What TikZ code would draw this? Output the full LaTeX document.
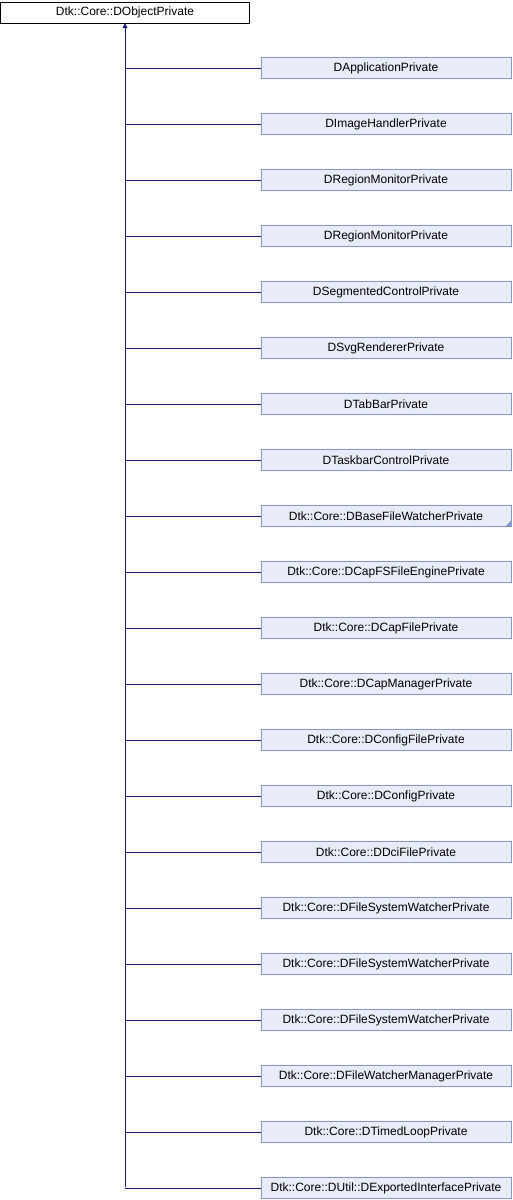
\documentclass[tikz,border=0pt]{standalone}
\usepackage{fontspec}
\setmainfont{Liberation Sans}
\usetikzlibrary{arrows.meta}
\definecolor{edge}{HTML}{191970}
\definecolor{boxfill}{HTML}{E8ECF6}
\definecolor{boxline}{HTML}{8497C8}

\begin{document}
\begin{tikzpicture}[x=1pt,y=-1pt,
  base/.style={draw=black,fill=white,minimum width=249pt,minimum height=21pt,
    inner sep=0pt,font=\fontsize{12}{13}\selectfont},
  derived/.style={draw=boxline,fill=boxfill,minimum width=250pt,minimum height=21pt,
    inner sep=0pt,font=\fontsize{12}{13}\selectfont},
  link/.style={edge,line width=0.8pt},
]
  \useasboundingbox (0,0) rectangle (512,1200);

  \node[base] (root) at (125,12.5) {Dtk::Core::DObjectPrivate};

  \foreach \name [count=\i] in {DApplicationPrivate,DImageHandlerPrivate,
      DRegionMonitorPrivate,DRegionMonitorPrivate,DSegmentedControlPrivate,
      DSvgRendererPrivate,DTabBarPrivate,DTaskbarControlPrivate,
      Dtk::Core::DBaseFileWatcherPrivate,Dtk::Core::DCapFSFileEnginePrivate,
      Dtk::Core::DCapFilePrivate,Dtk::Core::DCapManagerPrivate,
      Dtk::Core::DConfigFilePrivate,Dtk::Core::DConfigPrivate,
      Dtk::Core::DDciFilePrivate,Dtk::Core::DFileSystemWatcherPrivate,
      Dtk::Core::DFileSystemWatcherPrivate,Dtk::Core::DFileSystemWatcherPrivate,
      Dtk::Core::DFileWatcherManagerPrivate,Dtk::Core::DTimedLoopPrivate,
      Dtk::Core::DUtil::DExportedInterfacePrivate}
  {
    \node[derived] (c\i) at (386,{68+56*(\i-1)}) {\name};
    \draw[link] (125,{68+56*(\i-1)}) -- (c\i.west);
  }

  % Trunk with arrow into the base class
  \coordinate (trunk) at (125,1187);
  \draw[link,-{Triangle[length=5pt,width=5pt]}] (trunk) -- (root.south);

  % Marker: class has further subclasses
  \fill[boxline] (c9.south east) -- ++(0,-6) -- ++(-6,6) -- cycle;
\end{tikzpicture}
\end{document}
